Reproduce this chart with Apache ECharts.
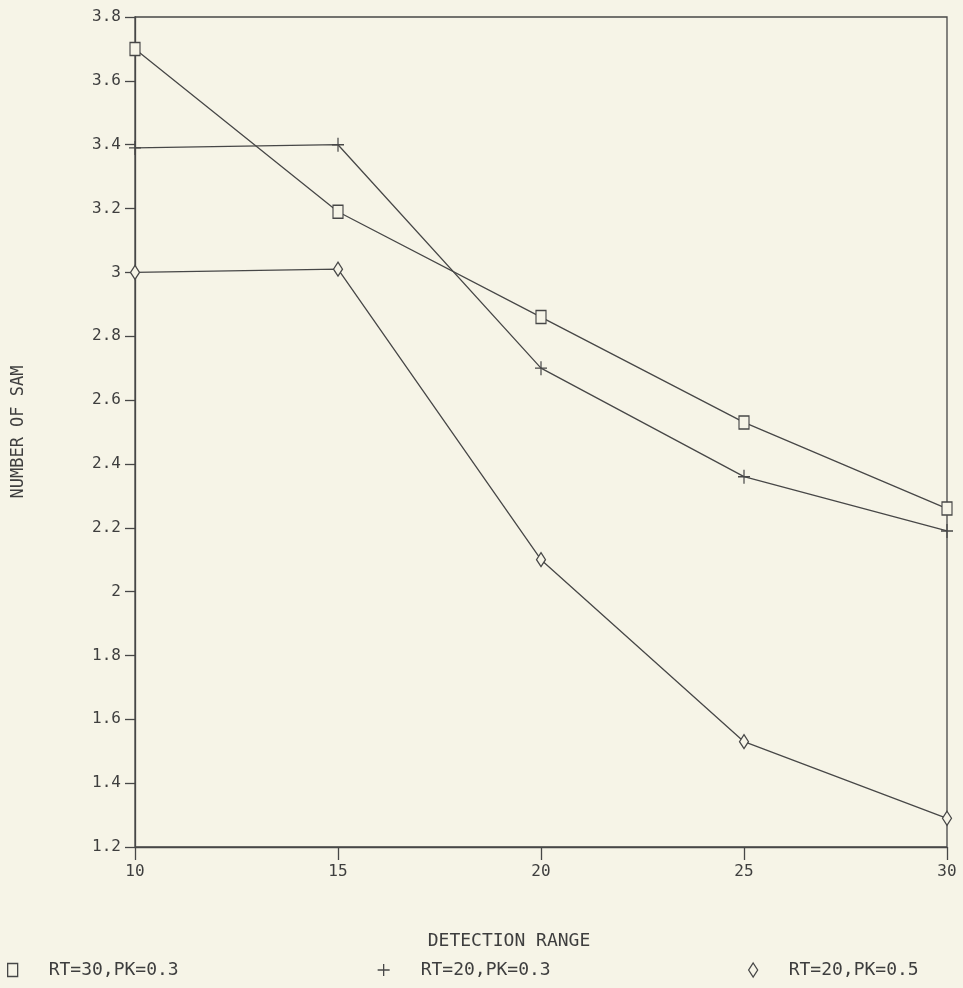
<!DOCTYPE html>
<html>
<head>
<meta charset="utf-8">
<title>Number of SAM vs Detection Range</title>
<script src="https://cdn.jsdelivr.net/npm/echarts@6/dist/echarts.min.js"></script>
<style>
  html, body { margin: 0; padding: 0; background: #f6f4e7; }
  #chart { width: 963px; height: 988px; }
</style>
</head>
<body>
<div id="chart"></div>
<script>
// Detection range values along the x axis
const detectionRange = [10, 15, 20, 25, 30];

// Number of SAM for each parameter set
const rt30pk03 = [3.70, 3.19, 2.86, 2.53, 2.26];
const rt20pk03 = [3.39, 3.40, 2.70, 2.36, 2.19];
const rt20pk05 = [3.00, 3.01, 2.10, 1.53, 1.29];

const seriesNames = ['RT=30,PK=0.3', 'RT=20,PK=0.3', 'RT=20,PK=0.5'];

const ink = '#474747';
const textInk = '#3e3e3e';
const paper = '#f6f4e7';
const mono = '"DejaVu Sans Mono", monospace';

const plusPath = 'path://M0,6 L12,6 M6,0 L6,12';
const symbols = ['rect', plusPath, 'diamond'];
const symbolSizes = [[10, 13], [12, 14], [9, 14]];
const dataSets = [rt30pk03, rt20pk03, rt20pk05];

const chart = echarts.init(document.getElementById('chart'), null, { renderer: 'canvas' });

const series = dataSets.map((vals, i) => ({
  name: seriesNames[i],
  type: 'line',
  data: detectionRange.map((x, k) => [x, vals[k]]),
  symbol: symbols[i],
  symbolSize: symbolSizes[i],
  showAllSymbol: true,
  lineStyle: { color: ink, width: 1.3 },
  itemStyle: { color: paper, borderColor: ink, borderWidth: 1.3 },
  emphasis: { disabled: true },
  animation: false,
  z: 3
}));

const legendLefts = [2, 372, 743];
const legends = seriesNames.map((name, i) => ({
  show: true,
  data: [{ name: name, icon: symbols[i] }],
  left: legendLefts[i],
  top: 956,
  itemWidth: symbolSizes[i][0],
  itemHeight: symbolSizes[i][1],
  itemStyle: { color: paper, borderColor: ink, borderWidth: 1.3 },
  lineStyle: { opacity: 0 },
  selectedMode: false,
  formatter: '{t|{name}}',
  textStyle: {
    rich: {
      t: { fontFamily: mono, fontSize: 18, color: textInk, padding: [0, 0, 0, 26] }
    }
  }
}));

chart.setOption({
  backgroundColor: paper,
  animation: false,
  grid: {
    left: 135, right: 16, top: 17, bottom: 141,
    show: true, borderColor: ink, borderWidth: 1.3, backgroundColor: 'transparent'
  },
  legend: legends,
  xAxis: {
    type: 'value',
    min: 10, max: 30, interval: 5,
    name: 'DETECTION RANGE',
    nameLocation: 'middle',
    nameGap: 85,
    nameTextStyle: { fontFamily: mono, fontSize: 18, color: textInk, padding: [0, 64, 0, 0] },
    axisLine: { show: true, lineStyle: { color: ink, width: 1.3 } },
    axisTick: { show: true, length: 13, lineStyle: { color: ink, width: 1.3 } },
    axisLabel: { fontFamily: mono, fontSize: 16, color: textInk, margin: 17 },
    splitLine: { show: false }
  },
  yAxis: {
    type: 'value',
    min: 1.2, max: 3.8, interval: 0.2,
    name: 'NUMBER OF SAM',
    nameLocation: 'middle',
    nameRotate: 90,
    nameGap: 108,
    nameTextStyle: { fontFamily: mono, fontSize: 17, color: textInk },
    axisLine: { show: true, lineStyle: { color: ink, width: 1.3 } },
    axisTick: { show: true, length: 10, lineStyle: { color: ink, width: 1.3 } },
    axisLabel: {
      fontFamily: mono, fontSize: 16, color: textInk, margin: 14,
      formatter: v => String(Math.round(v * 10) / 10)
    },
    splitLine: { show: false }
  },
  series: series
});
</script>
</body>
</html>
